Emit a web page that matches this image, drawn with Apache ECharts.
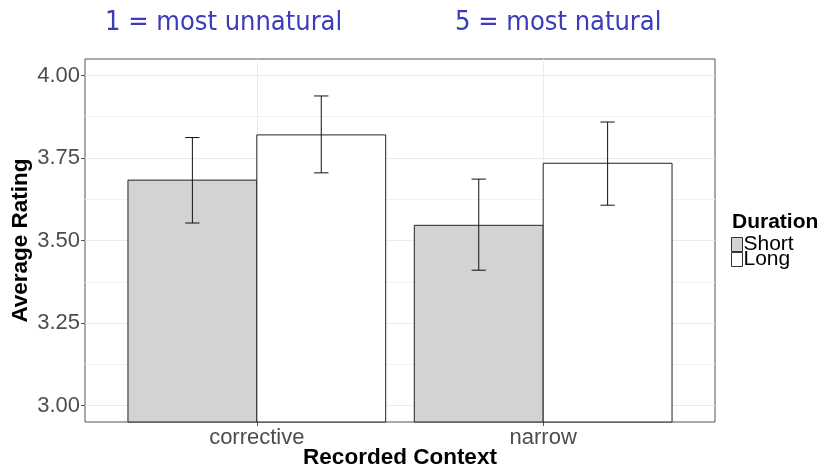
<!DOCTYPE html>
<html><head><meta charset="utf-8">
<script src="https://cdn.jsdelivr.net/npm/echarts@6/dist/echarts.min.js"></script>
<style>html,body{margin:0;padding:0;background:#fff}#c{width:829px;height:467px}</style>
</head><body><div id="c"></div>
<script>
const categories = ['corrective', 'narrow'];
const groups = ['Short', 'Long'];
const shortMean = [3.683, 3.546];
const shortLow = [3.553, 3.410];
const shortHigh = [3.812, 3.686];
const longMean = [3.820, 3.734];
const longLow = [3.705, 3.607];
const longHigh = [3.938, 3.859];
const yTicks = [3.00, 3.25, 3.50, 3.75, 4.00];
const yMinorTicks = [3.125, 3.375, 3.625, 3.875];
const catPositions = [1, 2];

const Y_MIN = 2.95, Y_MAX = 4.05;
const DODGE = 0.225, HALF_BAR = 0.225, CAP = 0.025;
const fills = { Short: '#d3d3d3', Long: '#ffffff' };
const SANS = "'Liberation Sans', Arial, sans-serif";
const COND = "'DejaVu Sans Condensed', 'Liberation Sans Narrow', sans-serif";

function makeData(offset, mean, low, high) {
  return categories.map((c, i) => [catPositions[i] + offset, mean[i], low[i], high[i]]);
}

function renderItem(params, api) {
  const x = api.value(0), y = api.value(1), lo = api.value(2), hi = api.value(3);
  const p0 = api.coord([x - HALF_BAR, y]);
  const p1 = api.coord([x + HALF_BAR, Y_MIN]);
  const eTop = api.coord([x, hi]);
  const eBot = api.coord([x, lo]);
  const cL = api.coord([x - CAP, hi])[0];
  const cR = api.coord([x + CAP, hi])[0];
  const errStyle = { stroke: '#111', lineWidth: 1 };
  return {
    type: 'group',
    children: [
      { type: 'rect', shape: { x: p0[0], y: p0[1], width: p1[0] - p0[0], height: p1[1] - p0[1] },
        style: { fill: api.visual('color'), stroke: '#222', lineWidth: 1 } },
      { type: 'line', shape: { x1: eTop[0], y1: eTop[1], x2: eBot[0], y2: eBot[1] }, style: errStyle },
      { type: 'line', shape: { x1: cL, y1: eTop[1], x2: cR, y2: eTop[1] }, style: errStyle },
      { type: 'line', shape: { x1: cL, y1: eBot[1], x2: cR, y2: eBot[1] }, style: errStyle }
    ]
  };
}

const chart = echarts.init(document.getElementById('c'), null, { renderer: 'canvas' });
chart.setOption({
  animation: false,
  backgroundColor: '#fff',
  title: [
    { text: '1 = most unnatural', left: 105, top: 9, padding: 0,
      textStyle: { color: '#3b3bbb', fontSize: 27, fontWeight: 'normal', fontFamily: COND } },
    { text: '5 = most natural', left: 455, top: 9, padding: 0,
      textStyle: { color: '#3b3bbb', fontSize: 27, fontWeight: 'normal', fontFamily: COND } },
    { text: 'Duration', left: 732, top: 212, padding: 0,
      textStyle: { color: '#000', fontSize: 21, fontWeight: 'bold', fontFamily: SANS } }
  ],
  legend: {
    orient: 'vertical', left: 731, top: 234, padding: 0,
    itemWidth: 11, itemHeight: 14, itemGap: -6,
    textStyle: { fontSize: 21, fontFamily: SANS, color: '#000', padding: [0, 0, 0, -4] },
    data: [
      { name: 'Short', icon: 'rect', itemStyle: { color: fills.Short, borderColor: '#333', borderWidth: 1 } },
      { name: 'Long', icon: 'rect', itemStyle: { color: fills.Long, borderColor: '#333', borderWidth: 1 } }
    ]
  },
  grid: { left: 85, top: 59, right: 114, bottom: 45, outerBoundsMode: 'none', containLabel: false,
    show: true, borderColor: '#555', borderWidth: 1, backgroundColor: 'transparent' },
  xAxis: {
    type: 'value', min: 0.4, max: 2.6,
    name: 'Recorded Context', nameLocation: 'middle', nameGap: 24, nameMoveOverlap: false,
    nameTextStyle: { fontSize: 22.5, fontWeight: 'bold', color: '#000', fontFamily: SANS },
    axisLine: { show: false },
    axisTick: { show: true, length: 4, customValues: catPositions, lineStyle: { color: '#555' } },
    axisLabel: { customValues: catPositions, margin: 5, fontSize: 22, color: '#4d4d4d', fontFamily: SANS,
      formatter: v => categories[catPositions.indexOf(v)] },
    splitLine: { show: true, lineStyle: { color: '#ebebeb', width: 1 } }
  },
  yAxis: [
    {
      type: 'value', min: Y_MIN, max: Y_MAX,
      name: 'Average Rating', nameLocation: 'middle', nameGap: 53, nameMoveOverlap: false,
      nameTextStyle: { fontSize: 22.5, fontWeight: 'bold', color: '#000', fontFamily: SANS },
      axisLine: { show: false },
      axisTick: { show: true, length: 4, customValues: yTicks, lineStyle: { color: '#555' } },
      axisLabel: { customValues: yTicks, margin: 5, fontSize: 22, color: '#4d4d4d', fontFamily: SANS,
        formatter: v => v.toFixed(2) },
      splitLine: { show: true, lineStyle: { color: '#ebebeb', width: 1 } }
    },
    {
      type: 'value', min: Y_MIN, max: Y_MAX, position: 'left',
      axisLine: { show: false },
      axisTick: { show: false, customValues: yMinorTicks },
      axisLabel: { show: false, customValues: yMinorTicks },
      splitLine: { show: true, lineStyle: { color: '#f2f2f2', width: 1 } }
    }
  ],
  series: [
    { name: 'Short', type: 'custom', xAxisIndex: 0, yAxisIndex: 0, renderItem, z: 3,
      itemStyle: { color: fills.Short }, data: makeData(-DODGE, shortMean, shortLow, shortHigh) },
    { name: 'Long', type: 'custom', xAxisIndex: 0, yAxisIndex: 0, renderItem, z: 3,
      itemStyle: { color: fills.Long }, data: makeData(DODGE, longMean, longLow, longHigh) }
  ]
});
</script></body></html>
